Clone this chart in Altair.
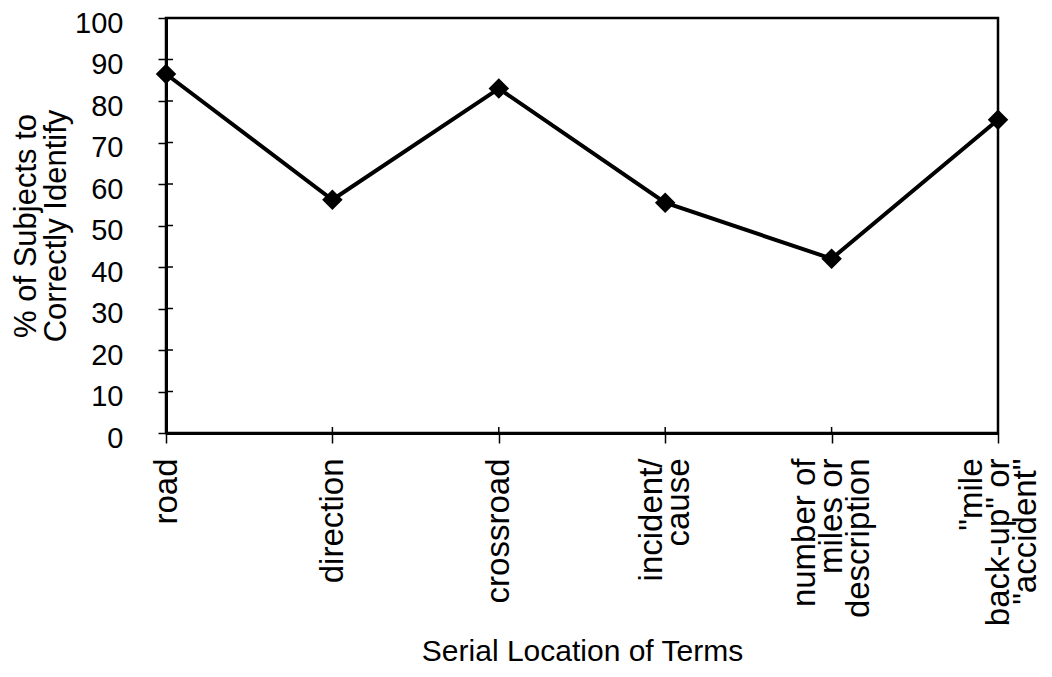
import altair as alt
import pandas as pd

# Data
terms = ["road", "direction", "crossroad", "incident/|cause",
         "number of|miles or|description", '"mile|back-up" or|"accident"']
pct_correct = [86.5, 56.2, 83.0, 55.5, 42.0, 75.5]
y_ticks = [0, 10, 20, 30, 40, 50, 60, 70, 80, 90, 100]

df = pd.DataFrame({"term": terms, "pct": pct_correct})
ticks_df = pd.DataFrame({"pct": y_ticks})

FONT = "Liberation Sans"
W, H = 832, 415
LH = 27

x_enc = alt.X(
    "term:N", sort=terms,
    scale=alt.Scale(type="point", padding=0),
    axis=alt.Axis(
        title="Serial Location of Terms",
        labelAngle=270, labelAlign="right", labelBaseline="middle",
        labelExpr="split(datum.label, '|')",
        labelFontSize=33, labelLineHeight=LH, labelPadding=15,
        labelOffset={
            "condition": [
                {"test": "length(split(datum.label, '|')) == 3", "value": -LH},
                {"test": "length(split(datum.label, '|')) == 2", "value": -LH / 2},
            ],
            "value": 0,
        },
        tickSize=10, titleFontSize=30, titlePadding=11,
        labelOverlap=False,
    ),
)
y_enc = alt.Y(
    "pct:Q",
    scale=alt.Scale(domain=[0, 100], nice=False),
    axis=alt.Axis(
        title=["% of Subjects to", "Correctly Identify"],
        values=y_ticks, tickSize=8, labelPadding=35, labelFontSize=29,
        labelOffset=5, titleFontSize=31, titleLineHeight=30, titlePadding=2,
        grid=False,
    ),
)

line = alt.Chart(df).mark_line(color="black", strokeWidth=4).encode(x=x_enc, y=y_enc)
pts = alt.Chart(df).mark_point(shape="diamond", filled=True, size=420,
                               color="black", opacity=1).encode(x=x_enc, y=y_enc)

y_inner = alt.Chart(ticks_df).mark_rule(color="black", strokeWidth=1.5).encode(
    y=alt.Y("pct:Q"), x=alt.value(0), x2=alt.value(7))
x_inner = alt.Chart(df).mark_rule(color="black", strokeWidth=1.5).encode(
    x=alt.X("term:N", sort=terms), y=alt.value(H - 6), y2=alt.value(H))

chart = alt.layer(y_inner, x_inner, line, pts).properties(
    width=W, height=H,
    autosize=alt.AutoSizeParams(type="none"),
    padding={"left": 158, "top": 10, "right": 46, "bottom": 236},
    background="white",
).configure_view(
    stroke="black", strokeWidth=2.5,
).configure_axis(
    domainColor="black", domainWidth=3, tickColor="black", tickWidth=1.5,
    labelColor="black", titleColor="black", labelFont=FONT, titleFont=FONT,
    titleFontWeight="normal",
)

chart.save("out.html", embed_options={"renderer": "svg", "actions": False})
